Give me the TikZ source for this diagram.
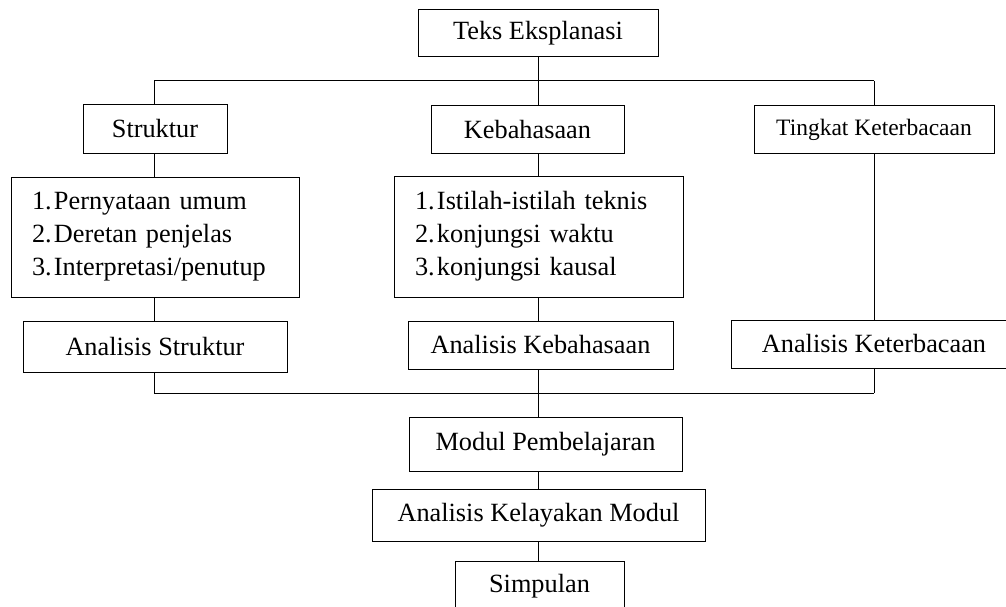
\documentclass[tikz,border=0pt]{standalone}
\usepackage{fontspec}
\setmainfont{Liberation Serif}
\begin{document}
\begin{tikzpicture}[x=1pt,y=-1pt,
  box/.style={draw=black,line width=1pt,inner sep=0pt,font=\fontsize{26.3}{33}\selectfont},
  listbox/.style={box,align=left,inner xsep=21pt},
  conn/.style={draw=black,line width=1pt}]
\clip (0,0) rectangle (1006,607);
\fill[white] (0,0) rectangle (1006,607);
\newcommand{\itm}[2]{\makebox[22pt][l]{#1}#2}
% nodes
\node[box,minimum width=240pt,minimum height=47pt] (teks) at (538,33.5) {Teks Eksplanasi};
\node[box,minimum width=144pt,minimum height=48pt] (struk) at (155,129) {Struktur};
\node[box,minimum width=193pt,minimum height=47pt] (keb) at (527.5,129.5) {Kebahasaan};
\node[box,minimum width=240pt,minimum height=47pt,font=\fontsize{23.5}{28}\selectfont] (ting) at (874,129.5) {Tingkat Keterbacaan};
\node[listbox,minimum width=288pt,minimum height=120pt,text width=246pt] (lst1) at (155,237)
  {\itm{1.}{Pernyataan umum}\\\itm{2.}{Deretan penjelas}\\\itm{3.}{Interpretasi/penutup}};
\node[listbox,minimum width=289pt,minimum height=121pt,text width=247pt] (lst2) at (538.5,236.5)
  {\itm{1.}{Istilah-istilah teknis}\\\itm{2.}{konjungsi waktu}\\\itm{3.}{konjungsi kausal}};
\node[box,minimum width=264pt,minimum height=51pt] (anS) at (155,346.5) {Analisis Struktur};
\node[box,minimum width=265pt,minimum height=48pt] (anK) at (540.5,345) {Analisis Kebahasaan};
\node[box,minimum width=286pt,minimum height=48pt] (anT) at (874,344) {Analisis Keterbacaan};
\node[box,minimum width=273pt,minimum height=54pt] (modul) at (545.5,444) {Modul Pembelajaran};
\node[box,minimum width=333pt,minimum height=52pt] (layak) at (538.5,515) {Analisis Kelayakan Modul};
\node[box,minimum width=169pt,minimum height=50pt] (simp) at (539.5,586) {Simpulan};
% junction coordinates
\coordinate (tL) at (154,81);
\coordinate (tM) at (538,81);
\coordinate (tR) at (874,81);
\coordinate (bL) at (154,393);
\coordinate (bM) at (538,393);
\coordinate (bR) at (874,393);
% connectors
\draw[conn] (tL) -- (tR);
\draw[conn] (teks) -- (tM);
\draw[conn] (tL) -- (tL |- struk.north);
\draw[conn] (tM) -- (tM |- keb.north);
\draw[conn] (tR) -- (ting);
\draw[conn] (tL |- struk.south) -- (tL |- lst1.north);
\draw[conn] (tL |- lst1.south) -- (tL |- anS.north);
\draw[conn] (tL |- anS.south) -- (bL);
\draw[conn] (tM |- keb.south) -- (tM |- lst2.north);
\draw[conn] (tM |- lst2.south) -- (tM |- anK.north);
\draw[conn] (tM |- anK.south) -- (bM);
\draw[conn] (ting) -- (anT);
\draw[conn] (tR |- anT.south) -- (bR);
\draw[conn] (bL) -- (bR);
\draw[conn] (bM) -- (bM |- modul.north);
\draw[conn] (bM |- modul.south) -- (bM |- layak.north);
\draw[conn] (bM |- layak.south) -- (bM |- simp.north);
\end{tikzpicture}
\end{document}
